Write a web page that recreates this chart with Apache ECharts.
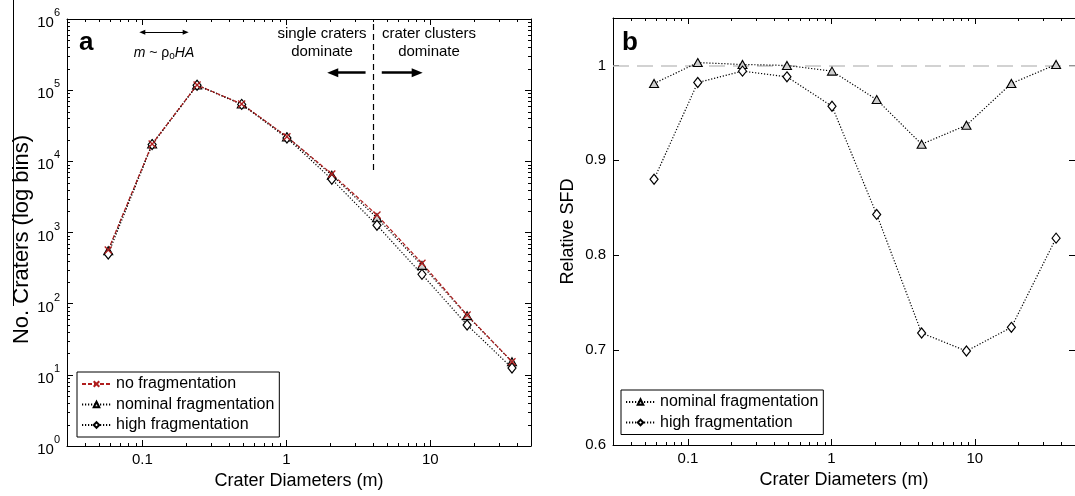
<!DOCTYPE html>
<html>
<head>
<meta charset="utf-8">
<script src="https://cdn.jsdelivr.net/npm/echarts@6/dist/echarts.min.js"></script>
<style>
  html, body { margin: 0; padding: 0; background: #fff; }
  #chart { width: 1075px; height: 496px; }
</style>
</head>
<body>
<div id="chart"></div>
<script>
// Crater diameter bin centres (m)
const diameters = [0.058, 0.117, 0.24, 0.49, 1.01, 2.07, 4.26, 8.75, 18.0, 36.9];

// Panel a: number of craters per log bin
const noFragmentation      = [567, 17500, 118000, 63900, 22200, 6640, 1760, 369, 69.3, 15.3];
const nominalFragmentation = [556, 17550, 118100, 63800, 22050, 6400, 1610, 345, 67.9, 15.3];
const highFragmentation    = [499, 17190, 117300, 63100, 21250, 5600, 1265, 258, 50.2, 12.5];

// Panel b: SFD relative to the no-fragmentation case
const relNominal = [0.981, 1.003, 1.001, 1.000, 0.994, 0.964, 0.917, 0.937, 0.981, 1.001];
const relHigh    = [0.880, 0.982, 0.994, 0.988, 0.957, 0.843, 0.718, 0.699, 0.724, 0.818];

// Axis ranges
const xRange = [0.03, 50];
const countRange = [1, 1e6];
const relRange = [0.6, 1.05];

const FONT = '"Liberation Sans", Arial, Helvetica, sans-serif';
const RED = '#b01e1e';
const CROSS = 'path://M0,0L10,10M10,0L0,10';

const pairs = (xs, ys) => xs.map((x, i) => [x, ys[i]]);

// minor tick values of a log axis (2..9 per decade), edges excluded
function logMinor(lo, hi) {
  const out = [];
  for (let e = Math.floor(Math.log10(lo)); e <= Math.ceil(Math.log10(hi)); e++) {
    for (let m = 2; m <= 9; m++) {
      const v = +(m * Math.pow(10, e)).toPrecision(4);
      if (v > lo * 1.001 && v < hi * 0.999) out.push(v);
    }
  }
  return out;
}

function fmtLinear(v) { return String(+v.toFixed(2)); }
function fmtLogX(v) { return String(+(+v).toPrecision(3)); }
function fmtPow(v) { return '{b|10}{s|' + Math.round(Math.log10(v)) + '}'; }

function xAxisDef(gridIndex, position, withLabels) {
  return {
    type: 'log', logBase: 10, gridIndex, position,
    min: xRange[0], max: xRange[1],
    axisLine: { show: true, onZero: false, lineStyle: { color: '#000', width: 1 } },
    axisTick: { show: true, inside: true, length: 6, lineStyle: { color: '#000', width: 1 } },
    axisLabel: {
      show: withLabels, margin: 6, fontSize: 15, color: '#000', fontFamily: FONT,
      showMinLabel: false, showMaxLabel: false, formatter: fmtLogX
    },
    splitLine: { show: false },
    name: withLabels ? 'Crater Diameters (m)' : '',
    nameLocation: 'middle', nameGap: 24,
    nameTextStyle: { fontSize: 18, color: '#000', fontFamily: FONT }
  };
}

function yCountDef(position, withLabels) {
  return {
    type: 'log', logBase: 10, gridIndex: 0, position,
    min: countRange[0], max: countRange[1],
    axisLine: { show: true, onZero: false, lineStyle: { color: '#000', width: 1 } },
    axisTick: { show: true, inside: true, length: 6, lineStyle: { color: '#000', width: 1 } },
    axisLabel: {
      show: withLabels, margin: 7, color: '#000', fontFamily: FONT, formatter: fmtPow,
      rich: {
        b: { fontSize: 15, fontFamily: FONT, color: '#000', padding: [8, 0, 0, 0] },
        s: { fontSize: 11, fontFamily: FONT, color: '#000', padding: [0, 0, 12, 0] }
      }
    },
    splitLine: { show: false },
    name: withLabels ? 'No. Craters (log bins)' : '',
    nameLocation: 'middle', nameGap: 28,
    nameTextStyle: { fontSize: 22, color: '#000', fontFamily: FONT, padding: [0, 14, 0, 0] }
  };
}

function yRelDef(position, withLabels) {
  return {
    type: 'value', gridIndex: 1, position,
    min: relRange[0], max: relRange[1], interval: 0.1,
    axisLine: { show: true, onZero: false, lineStyle: { color: '#000', width: 1 } },
    axisTick: { show: true, inside: true, length: 6, lineStyle: { color: '#000', width: 1 } },
    axisLabel: {
      show: withLabels, margin: 7, fontSize: 15, color: '#000', fontFamily: FONT,
      showMaxLabel: false, formatter: fmtLinear
    },
    splitLine: { show: false },
    name: withLabels ? 'Relative SFD' : '',
    nameLocation: 'middle', nameGap: 36,
    nameTextStyle: { fontSize: 18, color: '#000', fontFamily: FONT }
  };
}

// short inward ticks drawn on both opposite frame edges
function minorTicks(xAxisIndex, yAxisIndex, values, dir, ref) {
  const LEN = 3;
  return {
    type: 'custom', xAxisIndex, yAxisIndex, silent: true, z: 3,
    data: values.map(v => dir === 'x' ? [v, ref] : [ref, v]),
    renderItem(params, api) {
      const cs = params.coordSys;
      const st = { stroke: '#000', lineWidth: 1 };
      if (dir === 'x') {
        const px = Math.round(api.coord([api.value(0), ref])[0]) + 0.5;
        const yb = cs.y + cs.height, yt = cs.y;
        return { type: 'group', children: [
          { type: 'line', shape: { x1: px, y1: yb, x2: px, y2: yb - LEN }, style: st },
          { type: 'line', shape: { x1: px, y1: yt, x2: px, y2: yt + LEN }, style: st }
        ] };
      }
      const py = Math.round(api.coord([ref, api.value(1)])[1]) + 0.5;
      const xl = cs.x, xr = cs.x + cs.width;
      return { type: 'group', children: [
        { type: 'line', shape: { x1: xl, y1: py, x2: xl + LEN, y2: py }, style: st },
        { type: 'line', shape: { x1: xr, y1: py, x2: xr - LEN, y2: py }, style: st }
      ] };
    }
  };
}

const dotted = { color: '#000', width: 1.2, type: [1.2, 1.8] };
const triStyle = { color: '#cfcfcf', borderColor: '#000', borderWidth: 1.1 };
const diaStyle = { color: '#fff', borderColor: '#000', borderWidth: 1.2 };
const arrowY = 175900;

const legendBase = {
  orient: 'vertical', padding: [4, 5, 4, 4], itemGap: 4.5,
  itemWidth: 29, itemHeight: 7, selectedMode: false,
  borderColor: '#000', borderWidth: 1, backgroundColor: '#fff',
  textStyle: { fontSize: 16, color: '#000', fontFamily: FONT }
};

const option = {
  animation: false,
  backgroundColor: '#fff',
  textStyle: { fontFamily: FONT, color: '#000' },
  grid: [
    { left: 67, top: 19, width: 464, height: 427 },
    { left: 613, top: 18, width: 464, height: 427 }
  ],
  xAxis: [
    xAxisDef(0, 'bottom', true),
    xAxisDef(0, 'top', false),
    xAxisDef(1, 'bottom', true),
    xAxisDef(1, 'top', false)
  ],
  yAxis: [
    yCountDef('left', true),
    yCountDef('right', false),
    yRelDef('left', true),
    yRelDef('right', false)
  ],
  legend: [
    Object.assign({}, legendBase, {
      data: ['no fragmentation', 'nominal fragmentation', 'high fragmentation'],
      left: 77, top: 372
    }),
    Object.assign({}, legendBase, {
      data: ['nominal fragmentation', 'high fragmentation'],
      left: 621, top: 390
    })
  ],
  series: [
    {
      name: 'nominal fragmentation', type: 'line', xAxisIndex: 0, yAxisIndex: 0,
      data: pairs(diameters, nominalFragmentation),
      symbol: 'triangle', symbolSize: [9, 8], itemStyle: triStyle, lineStyle: dotted,
      emphasis: { disabled: true },
      // regime arrows either side of the transition diameter
      markLine: {
        silent: true, symbol: ['none', 'triangle'], symbolSize: [9, 11],
        label: { show: false },
        lineStyle: { color: '#000', width: 2.5, type: 'solid' },
        data: [
          [{ coord: [3.55, arrowY] }, { coord: [2.1, arrowY] }],
          [{ coord: [4.6, arrowY] }, { coord: [8.1, arrowY] }]
        ]
      }
    },
    {
      name: 'high fragmentation', type: 'line', xAxisIndex: 0, yAxisIndex: 0,
      data: pairs(diameters, highFragmentation),
      symbol: 'diamond', symbolSize: [8, 10], itemStyle: diaStyle, lineStyle: dotted,
      emphasis: { disabled: true },
      // diameter range of the m ~ rho_o H A regime
      markLine: {
        silent: true, symbol: ['triangle', 'triangle'], symbolSize: [5, 6],
        label: { show: false },
        lineStyle: { color: '#000', width: 1, type: 'solid' },
        data: [[{ coord: [0.1, 650000] }, { coord: [0.2, 650000] }]]
      }
    },
    {
      name: 'no fragmentation', type: 'line', xAxisIndex: 0, yAxisIndex: 0,
      data: pairs(diameters, noFragmentation),
      symbol: CROSS, symbolSize: 7,
      itemStyle: { color: RED, borderColor: RED, borderWidth: 1.3 },
      lineStyle: { color: RED, width: 1.2, type: [4, 2] },
      emphasis: { disabled: true },
      // transition between single craters and crater clusters
      markLine: {
        silent: true, symbol: ['none', 'none'],
        label: { show: false },
        lineStyle: { color: '#000', width: 1.2, type: [6, 4] },
        data: [[{ coord: [4, 7550] }, { coord: [4, 1e6] }]]
      }
    },
    {
      name: 'nominal fragmentation', type: 'line', xAxisIndex: 2, yAxisIndex: 2,
      data: pairs(diameters, relNominal),
      symbol: 'triangle', symbolSize: [9, 8], itemStyle: triStyle, lineStyle: dotted,
      emphasis: { disabled: true },
      markLine: {
        silent: true, z: 1, symbol: ['none', 'none'],
        label: { show: false },
        lineStyle: { color: '#c4c4c4', width: 1.5, type: [16, 8] },
        data: [{ yAxis: 1 }]
      }
    },
    {
      name: 'high fragmentation', type: 'line', xAxisIndex: 2, yAxisIndex: 2,
      data: pairs(diameters, relHigh),
      symbol: 'diamond', symbolSize: [8, 10], itemStyle: diaStyle, lineStyle: dotted,
      emphasis: { disabled: true }
    },
    minorTicks(0, 0, logMinor(xRange[0], xRange[1]), 'x', 1000),
    minorTicks(0, 0, logMinor(countRange[0], countRange[1]), 'y', 1),
    minorTicks(2, 2, logMinor(xRange[0], xRange[1]), 'x', 0.8)
  ],
  graphic: [
    { type: 'line', silent: true, shape: { x1: 13.5, y1: 0, x2: 13.5, y2: 306 },
      style: { stroke: '#000', lineWidth: 1 } },
    { type: 'text', silent: true, x: 79, y: 43,
      style: { text: 'a', fontSize: 26, fontWeight: 'bold', fontFamily: FONT, fill: '#000', verticalAlign: 'middle' } },
    { type: 'text', silent: true, x: 622, y: 43,
      style: { text: 'b', fontSize: 26, fontWeight: 'bold', fontFamily: FONT, fill: '#000', verticalAlign: 'middle' } },
    { type: 'text', silent: true, x: 164, y: 53,
      style: {
        text: '{i|m} ~ ρ{s|o}{i|HA}', fontSize: 14, fontFamily: FONT, fill: '#000',
        align: 'center', verticalAlign: 'middle',
        rich: {
          i: { fontSize: 14, fontStyle: 'italic', fontFamily: FONT, fill: '#000' },
          s: { fontSize: 10, fontFamily: FONT, fill: '#000', padding: [6, 0, 0, 0] }
        }
      } },
    { type: 'text', silent: true, x: 322, y: 43,
      style: { text: 'single craters\ndominate', fontSize: 15, lineHeight: 18.3, fontFamily: FONT,
        fill: '#000', align: 'center', verticalAlign: 'middle' } },
    { type: 'text', silent: true, x: 429, y: 43,
      style: { text: 'crater clusters\ndominate', fontSize: 15, lineHeight: 18.3, fontFamily: FONT,
        fill: '#000', align: 'center', verticalAlign: 'middle' } }
  ]
};

const chart = echarts.init(document.getElementById('chart'));
chart.setOption(option);
</script>
</body>
</html>
